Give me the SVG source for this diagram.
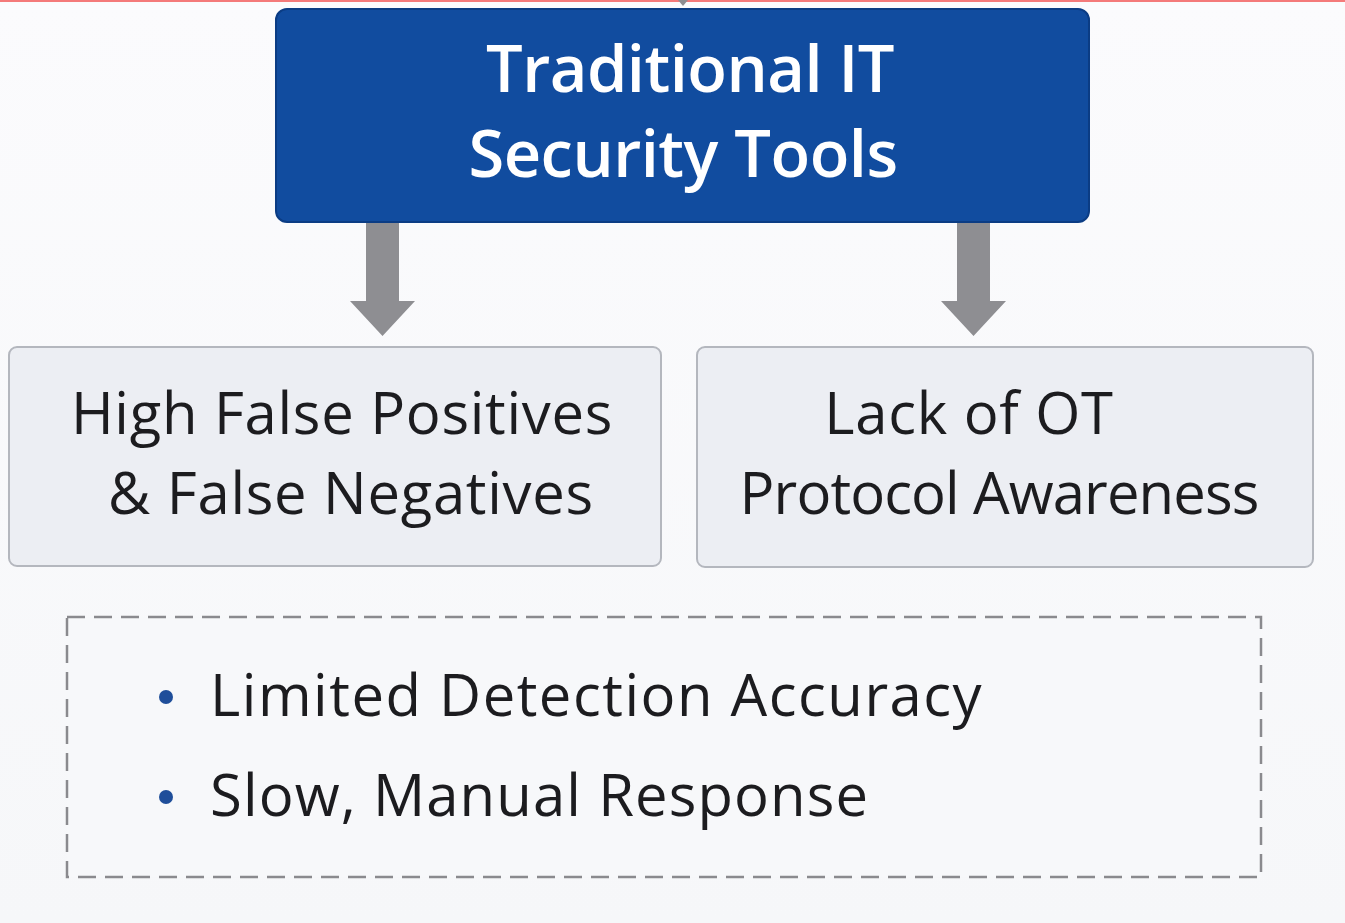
<svg xmlns="http://www.w3.org/2000/svg" width="1345" height="923" viewBox="0 0 1345 923">
<defs>
<style>
.title{font-family:"Open Sans","Noto Sans",sans-serif;font-weight:600;font-size:65px;letter-spacing:-0.5px;fill:#ffffff;text-anchor:middle}
.box{fill:#eceef3;stroke:#b4b7be;stroke-width:2}
.lbl{font-family:"Open Sans","Noto Sans",sans-serif;font-size:58px;letter-spacing:0.7px;fill:#1c1c1f;text-anchor:middle}
.item{font-family:"Open Sans","Noto Sans",sans-serif;font-size:58px;letter-spacing:1.5px;fill:#1c1c1f}
.arrow{fill:#8e8e92}
.dot{fill:#1f4e9a}
</style>
<linearGradient id="bg" x1="0" y1="0" x2="0" y2="1">
<stop offset="0" stop-color="#fbfbfd"/>
<stop offset="1" stop-color="#f6f7f9"/>
</linearGradient>
</defs>
<rect width="1345" height="923" fill="url(#bg)"/>
<rect x="0" y="0" width="1345" height="2" fill="#f47a7a"/>
<g id="connectors">
<path class="arrow" d="M678 0 L688 0 L683 6 Z"/>
<path class="arrow" d="M366 222 H399 V301 H415 L382.5 336 L350 301 H366 Z"/>
<path class="arrow" d="M957 222 H990 V301 H1006 L973.5 336 L941 301 H957 Z"/>
</g>
<g id="top">
<rect x="276" y="9" width="813" height="213" rx="11" fill="#114c9f" stroke="#0b3c84" stroke-width="2"/>
<text class="title" x="690" y="92">Traditional IT</text>
<text class="title" x="683" y="177">Security Tools</text>
</g>
<g id="left">
<rect class="box" x="9" y="347" width="652" height="219" rx="8"/>
<text class="lbl" x="342" y="434">High False Positives</text>
<text class="lbl" x="351" y="514">&amp; False Negatives</text>
</g>
<g id="right">
<rect class="box" x="697" y="347" width="616" height="220" rx="8"/>
<text class="lbl" x="969" y="434">Lack of OT</text>
<text class="lbl" x="999" y="514" style="letter-spacing:-0.9px">Protocol Awareness</text>
</g>
<g id="notes">
<rect x="67" y="617" width="1194" height="260" fill="#f7f8fa" stroke="#8a8a8e" stroke-width="2.5" stroke-dasharray="18,9"/>
<circle class="dot" cx="166" cy="697" r="7"/>
<circle class="dot" cx="166" cy="797" r="7"/>
<text class="item" x="210" y="716">Limited Detection Accuracy</text>
<text class="item" x="210" y="816" style="letter-spacing:1.1px">Slow, Manual Response</text>
</g>
</svg>
